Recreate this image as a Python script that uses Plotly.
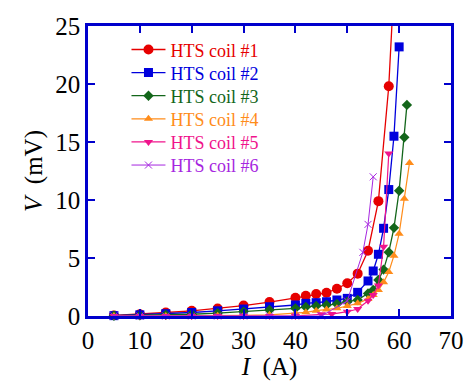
import plotly.graph_objects as go

# ---- data ----
I1 = [5, 10, 15, 20, 25, 30, 35, 40, 42, 44, 46, 48, 50, 52, 54, 56, 58, 59]
V1 = [0.05, 0.15, 0.3, 0.45, 0.65, 0.9, 1.2, 1.58, 1.75, 1.9, 2.0, 2.35, 2.82, 3.65, 5.63, 9.9, 19.8, 28.5]

I2 = [5, 10, 15, 20, 25, 30, 35, 40, 42, 44, 46, 48, 50, 52, 54, 55, 56, 57, 58, 59, 60]
V2 = [0.03, 0.1, 0.2, 0.3, 0.45, 0.6, 0.8, 0.95, 1.09, 1.15, 1.23, 1.38, 1.52, 2.04, 3.02, 3.88, 5.32, 7.56, 10.9, 15.5, 23.2]

I3 = [5, 10, 15, 20, 25, 30, 35, 40, 42, 44, 46, 48, 50, 52, 54, 55, 56, 57, 58, 59, 60, 61, 61.5]
V3 = [0.02, 0.05, 0.1, 0.15, 0.25, 0.38, 0.52, 0.66, 0.78, 0.86, 0.95, 1.03, 1.23, 1.38, 1.95, 2.24, 3.1, 4.0, 5.5, 7.6, 10.8, 15.4, 18.2]

I4 = [5, 10, 15, 20, 25, 30, 35, 40, 42, 44, 46, 48, 50, 52, 54, 55, 56, 57, 58, 59, 60, 61, 62]
V4 = [0.0, 0.0, 0.0, 0.0, 0.02, 0.05, 0.1, 0.23, 0.32, 0.46, 0.57, 0.66, 0.86, 1.09, 1.47, 1.8, 2.24, 2.9, 3.8, 5.2, 7.1, 10.1, 13.2]

I5 = [5, 10, 15, 20, 25, 30, 35, 40, 45, 47, 50, 52, 54, 55, 56, 57, 58]
V5 = [0.0, 0.0, 0.0, 0.0, 0.0, 0.0, 0.0, 0.0, 0.15, 0.17, 0.37, 0.6, 1.32, 1.81, 2.64, 5.97, 14.0]

I6 = [5, 10, 15, 20, 25, 30, 35, 40, 45, 50, 53, 54, 55]
V6 = [0.0, 0.0, 0.0, 0.0, 0.0, 0.0, 0.0, 0.0, 0.0, 1.3, 5.49, 7.9, 12.0]

names = ["HTS coil #1", "HTS coil #2", "HTS coil #3", "HTS coil #4", "HTS coil #5", "HTS coil #6"]
xticks = [0, 10, 20, 30, 40, 50, 60, 70]
yticks = [0, 5, 10, 15, 20, 25]

series = [
    (I1, V1, "#e60000", "circle", 10, 1.3),
    (I2, V2, "#0000dd", "square", 9, 1.3),
    (I3, V3, "#13661a", "diamond", 8, 1.3),
    (I4, V4, "#ff8c1a", "triangle-up", 8, 1.2),
    (I5, V5, "#f0148c", "triangle-down", 8, 1.2),
    (I6, V6, "#a626e0", "x-thin", 7, 1.0),
]

SERIF = "Liberation Serif, Times New Roman, serif"

fig = go.Figure()
legend_layout = {}
for k, (xs, ys, col, sym, sz, lw) in enumerate(series):
    mk = dict(symbol=sym, size=sz, color=col)
    if sym == "x-thin":
        mk["line"] = dict(color=col, width=1)
    lname = "legend" if k == 0 else "legend%d" % (k + 1)
    fig.add_trace(go.Scatter(
        x=xs, y=ys, mode="lines+markers",
        name="<span style='color:%s'>%s</span>" % (col, names[k]),
        line=dict(color=col, width=lw),
        marker=mk,
        cliponaxis=(k == 0),
        legend=lname,
    ))
    # one legend box per entry so the row spacing can follow the reference
    legend_layout[lname] = dict(
        x=0.106, y=0.918 - k * 0.0797, xanchor="left", yanchor="middle",
        bgcolor="rgba(0,0,0,0)", borderwidth=0,
        font=dict(family=SERIF, size=18), itemwidth=34,
    )

axcol = "#0000cc"
fig.update_layout(
    width=465, height=381,
    margin=dict(l=88, r=14, t=26, b=65, autoexpand=False),
    paper_bgcolor="white", plot_bgcolor="white",
    font=dict(family=SERIF, size=22, color="black"),
    showlegend=True,
    xaxis=dict(
        range=[0, 70], tickvals=xticks, ticktext=[str(v) for v in xticks],
        showline=True, linecolor=axcol, linewidth=2.5, mirror="ticks",
        ticks="inside", ticklen=7, tickcolor=axcol, tickwidth=1.5,
        showgrid=False, zeroline=False, automargin=False,
        tickfont=dict(family=SERIF, size=25),
        title=dict(text="<i>I</i>  (A)", font=dict(family=SERIF, size=25), standoff=2),
    ),
    yaxis=dict(
        range=[0, 25], tickvals=yticks, ticktext=[str(v) for v in yticks],
        showline=True, linecolor=axcol, linewidth=2.5, mirror="ticks",
        ticks="inside", ticklen=7, tickcolor=axcol, tickwidth=1.5,
        showgrid=False, zeroline=False, automargin=False,
        tickfont=dict(family=SERIF, size=25),
        title=dict(text="<i>V</i>  (mV)", font=dict(family=SERIF, size=25), standoff=6),
    ),
    **legend_layout,
)

fig.write_html("out.html", config={"displayModeBar": False})

# remove the default page margin so the figure sits at the window's top-left
with open("out.html", encoding="utf-8") as f:
    html = f.read()
html = html.replace("<head>", "<head><style>html,body{margin:0;padding:0;overflow:hidden}</style>", 1)
with open("out.html", "w", encoding="utf-8") as f:
    f.write(html)
